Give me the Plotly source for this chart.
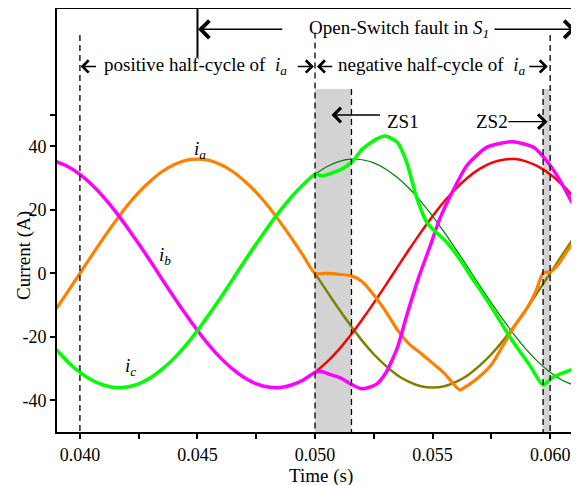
import plotly.graph_objects as go

# ---------------- data ----------------
# pre-fault time grid (s) and healthy phase currents (A)
t_pre = [0.0390, 0.0395, 0.0400, 0.0405, 0.0410, 0.0415, 0.0420, 0.0425, 0.0430, 0.0435,
         0.0440, 0.0445, 0.0450, 0.0455, 0.0460, 0.0465, 0.0470, 0.0475, 0.0480, 0.0485,
         0.0490, 0.0495, 0.0500]
ia_pre = [-11.1, -5.6, 0.0, 5.6, 11.1, 16.3, 21.2, 25.5, 29.1, 32.1, 34.2, 35.6, 36.0,
          35.6, 34.2, 32.1, 29.1, 25.5, 21.2, 16.3, 11.1, 5.6, 0.0]
ib_pre = [35.2, 33.6, 31.2, 28.0, 24.1, 19.6, 14.6, 9.3, 3.8, -1.9, -7.5, -12.9, -18.0,
          -22.7, -26.8, -30.2, -32.9, -34.8, -35.8, -36.0, -35.2, -33.6, -31.2]
ic_pre = [-24.1, -28.0, -31.2, -33.6, -35.2, -36.0, -35.8, -34.8, -32.9, -30.2, -26.8,
          -22.7, -18.0, -12.9, -7.5, -1.9, 3.8, 9.3, 14.6, 19.6, 24.1, 28.0, 31.2]

# post-fault time grid and the healthy (reference) currents
t_post = [0.0500, 0.0505, 0.0510, 0.0515, 0.0520, 0.0525, 0.0530, 0.0535, 0.0540, 0.0545,
          0.0550, 0.0555, 0.0560, 0.0565, 0.0570, 0.0575, 0.0580, 0.0585, 0.0590, 0.0595,
          0.0600, 0.0605, 0.0610]
ia_ref = [0.0, -5.6, -11.1, -16.3, -21.2, -25.5, -29.1, -32.1, -34.2, -35.6, -36.0, -35.6,
          -34.2, -32.1, -29.1, -25.5, -21.2, -16.3, -11.1, -5.6, 0.0, 5.6, 11.1]
ib_ref = [-31.2, -28.0, -24.1, -19.6, -14.6, -9.3, -3.8, 1.9, 7.5, 12.9, 18.0, 22.7, 26.8,
          30.2, 32.9, 34.8, 35.8, 36.0, 35.2, 33.6, 31.2, 28.0, 24.1]
ic_ref = [31.2, 33.6, 35.2, 36.0, 35.8, 34.8, 32.9, 30.2, 26.8, 22.7, 18.0, 12.9, 7.5, 1.9,
          -3.8, -9.3, -14.6, -19.6, -24.1, -28.0, -31.2, -33.6, -35.2]

# faulty currents after the open-switch fault
t_ia_f = [0.0500, 0.0505, 0.0510, 0.05155, 0.0520, 0.0525, 0.0530, 0.0535, 0.0540, 0.0545,
          0.0550, 0.0555, 0.0560, 0.05617, 0.0565, 0.0570, 0.0575, 0.0580, 0.0585, 0.0590,
          0.0594, 0.0597, 0.0600, 0.0603, 0.0607, 0.0610]
ia_f = [0.2, 0.0, -0.3, -0.8, -2.6, -6.8, -11.9, -17.8, -22.2, -25.2, -28.3, -31.5, -35.8,
        -36.7, -35.3, -32.5, -28.8, -22.7, -16.5, -11.2, -5.5, 0.1, 0.5, 2.4, 6.8, 9.8]

t_ib_f = [0.0500, 0.0503, 0.0507, 0.0511, 0.05155, 0.0520, 0.0526, 0.0530, 0.0535, 0.0539,
          0.0544, 0.0549, 0.0553, 0.0559, 0.05645, 0.0573, 0.0584, 0.0593, 0.0599, 0.0603,
          0.0607, 0.0610]
ib_f = [-31.2, -31.0, -32.0, -33.0, -35.0, -36.4, -35.0, -31.5, -23.5, -13.3, -1.5, 8.7,
        17.1, 26.5, 33.9, 39.7, 41.5, 39.7, 35.0, 30.7, 25.5, 21.3]

t_ic_f = [0.0500, 0.0503, 0.0508, 0.0512, 0.05162, 0.0520, 0.0526, 0.0530, 0.0535, 0.0539,
          0.0543, 0.05475, 0.0550, 0.0556, 0.0562, 0.0567, 0.0570, 0.0577, 0.0583, 0.0588,
          0.05915, 0.0597, 0.0601, 0.0610]
ic_f = [31.3, 30.7, 31.8, 33.1, 35.5, 39.1, 42.3, 43.3, 41.3, 35.0, 24.4, 16.1, 14.0, 9.8,
        4.0, -1.8, -4.9, -13.0, -20.2, -25.5, -29.1, -35.2, -32.8, -30.1]

x_ticks = [0.040, 0.045, 0.050, 0.055, 0.060]
x_tick_text = ["0.040", "0.045", "0.050", "0.055", "0.060"]
y_ticks = [-40, -20, 0, 20, 40, 50]
y_tick_text = ["-40", "-20", "0", "20", "40", ""]

# event instants (s)
t_fault = 0.045
zs1 = [0.0500, 0.05155]
zs2 = [0.0597, 0.0600]

# ---------------- figure ----------------
FONT = "Liberation Serif, Times New Roman, serif"
fig = go.Figure()

def line(x, y, color, width, smooth=1.0):
    fig.add_trace(go.Scatter(x=x, y=y, mode="lines",
                             line=dict(color=color, width=width, shape="spline",
                                       smoothing=smooth),
                             hoverinfo="skip"))

# reference (healthy) waves after fault instant
line(t_post, ia_ref, "#808000", 2.5)
line(t_post, ib_ref, "#ff0000", 2.5)
line(t_post, ic_ref, "#008000", 1.2)
# actual currents
line(t_pre + t_ia_f[1:], ia_pre + ia_f[1:], "#ff8000", 3.2, 0.6)
line(t_pre + t_ib_f[1:], ib_pre + ib_f[1:], "#ff00ff", 3.5, 0.6)
line(t_pre + t_ic_f[1:], ic_pre + ic_f[1:], "#00ff00", 3.5, 0.6)

YTOP = 83.3
YMIN = -50
shapes = []
# gray zones
for z in (zs1, zs2):
    shapes.append(dict(type="rect", xref="x", yref="y", x0=z[0], x1=z[1], y0=58.1, y1=YMIN,
                       fillcolor="#d3d3d3", line=dict(width=0), layer="below"))
dash = dict(color="black", width=1.3, dash="6px,4px")
for tv, top in [(0.040, 75.1), (0.050, 75.9), (0.060, 75.1), (zs1[1], 58.1), (zs2[0], 58.1)]:
    shapes.append(dict(type="line", xref="x", yref="y", x0=tv, x1=tv, y0=top, y1=YMIN,
                       line=dash))
# fault instant marker
shapes.append(dict(type="line", xref="x", yref="y", x0=t_fault, x1=t_fault, y0=YTOP, y1=68.2,
                   line=dict(color="black", width=2)))

ann = []
def arrow(head, tail, y, size=2.2):
    ann.append(dict(x=head, y=y, ax=tail, ay=y, xref="x", yref="y", axref="x", ayref="y",
                    text="", showarrow=True, arrowhead=4, arrowsize=size, arrowwidth=1.4,
                    arrowcolor="black"))

def text(x, y, s, size=19, xanchor="center"):
    ann.append(dict(x=x, y=y, xref="x", yref="y", text=s, showarrow=False,
                    font=dict(family=FONT, size=size, color="black"), xanchor=xanchor,
                    yanchor="middle"))

# fault row
arrow(0.04502, 0.04867, 76.9, 2.4)
arrow(0.06108, 0.05757, 76.9, 2.4)
text(0.05357, 76.9, "Open-Switch fault in <i>S</i><sub><i>1</i></sub>")
# half-cycle row
arrow(0.04003, 0.04075, 65.2, 1.7)
arrow(0.04995, 0.04920, 65.2, 1.7)
arrow(0.05008, 0.05080, 65.2, 1.7)
arrow(0.05990, 0.05905, 65.2, 1.7)
text(0.04492, 65.2, "positive half-cycle of\u00a0\u00a0<i>i</i><sub><i>a</i></sub>")
text(0.05497, 65.2, "negative half-cycle of\u00a0\u00a0<i>i</i><sub><i>a</i></sub>")
# zero-state labels
arrow(0.05070, 0.05283, 49.9, 2.0)
text(0.05374, 47.8, "ZS1")
arrow(0.05989, 0.05816, 47.8, 2.0)
text(0.05751, 47.8, "ZS2")
# curve labels
text(0.04509, 38.9, "<i>i</i><sub><i>a</i></sub>")
text(0.04360, 5.5, "<i>i</i><sub><i>b</i></sub>")
text(0.04216, -29.4, "<i>i</i><sub><i>c</i></sub>")
# axis titles
ann.append(dict(x=-0.064, y=0.418, xref="paper", yref="paper", text="Current (A)",
                xanchor="center", yanchor="middle",
                textangle=-90, showarrow=False, font=dict(family=FONT, size=19, color="black")))
ann.append(dict(x=0.509, y=-0.104, xref="paper", yref="paper", text="Time (s)",
                xanchor="center", yanchor="middle",
                showarrow=False, font=dict(family=FONT, size=19, color="black")))

# the html body adds an 8px offset, so the figure is 8px smaller and margins shifted
fig.update_layout(
    width=571, height=477,
    margin=dict(l=49, r=3, t=1, b=53, autoexpand=False),
    plot_bgcolor="white", paper_bgcolor="white",
    showlegend=False,
    shapes=shapes, annotations=ann,
    font=dict(family=FONT, size=18, color="black"),
)
fig.update_xaxes(range=[0.039025, 0.0611], tickvals=x_ticks, ticktext=x_tick_text,
                 automargin=False,
                 showline=True, linecolor="black", linewidth=2, mirror=True,
                 ticks="outside", ticklen=5, tickwidth=2, tickcolor="black",
                 minor=dict(tick0=0.0375, dtick=0.0025, ticks="outside", ticklen=5,
                            tickwidth=2, tickcolor="black"),
                 showgrid=False, zeroline=False,
                 tickfont=dict(family=FONT, size=18, color="black"))
fig.update_yaxes(range=[YMIN, YTOP], tickvals=y_ticks, ticktext=y_tick_text,
                 automargin=False,
                 showline=True, linecolor="black", linewidth=2, mirror=True,
                 ticks="outside", ticklen=5, tickwidth=2, tickcolor="black",
                 showgrid=False, zeroline=False,
                 tickfont=dict(family=FONT, size=18, color="black"))

fig.write_html("out.html")
